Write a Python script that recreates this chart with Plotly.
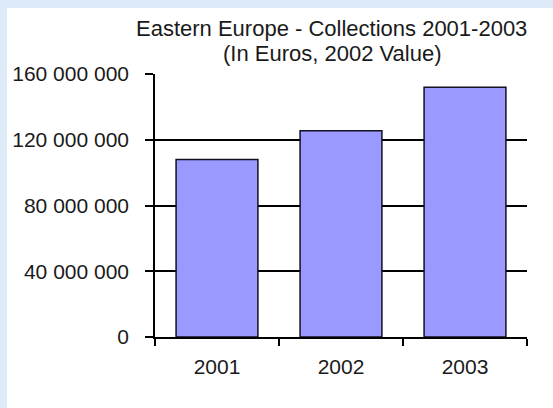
import plotly.graph_objects as go

years = ["2001", "2002", "2003"]
collections = [108_000_000, 125_500_000, 152_000_000]
y_tick_vals = [0, 40_000_000, 80_000_000, 120_000_000, 160_000_000]
y_tick_text = ["0", "40 000 000", "80 000 000", "120 000 000", "160 000 000"]
title_lines = ["Eastern Europe - Collections 2001-2003", "(In Euros, 2002 Value)"]

W, H = 553, 408
L, R, T, B = 155, 26, 74, 71
PW, PH = W - L - R, H - T - B

def px_x(x):
    return (x - L) / PW

def px_y(y):
    return (H - B - y) / PH

FONT = "Liberation Sans, Arial, sans-serif"
BLUE_BORDER = "#DDEAF7"

fig = go.Figure(
    go.Bar(
        x=years,
        y=collections,
        marker=dict(color="#9999FF", line=dict(color="#111122", width=1.5)),
    )
)

fig.update_layout(
    width=W,
    height=H,
    margin=dict(l=L, r=R, t=T, b=B, pad=0),
    paper_bgcolor="white",
    plot_bgcolor="white",
    bargap=0.34,
    showlegend=False,
    font=dict(family=FONT, size=21, color="#1a1a1a"),
    shapes=[
        dict(type="rect", xref="paper", yref="paper", x0=px_x(0), x1=px_x(7),
             y0=px_y(H), y1=px_y(0), fillcolor=BLUE_BORDER, line=dict(width=0), layer="below"),
        dict(type="rect", xref="paper", yref="paper", x0=px_x(0), x1=px_x(W),
             y0=px_y(8), y1=px_y(0), fillcolor=BLUE_BORDER, line=dict(width=0), layer="below"),
    ],
    annotations=[
        dict(text=title_lines[0], xref="paper", yref="paper", x=px_x(331), y=px_y(28),
             xanchor="center", yanchor="middle", showarrow=False,
             font=dict(family=FONT, size=22, color="#1a1a1a")),
        dict(text=title_lines[1], xref="paper", yref="paper", x=px_x(332), y=px_y(53),
             xanchor="center", yanchor="middle", showarrow=False,
             font=dict(family=FONT, size=22, color="#1a1a1a")),
    ],
)

fig.update_xaxes(
    type="category",
    showline=True, linecolor="black", linewidth=1.5,
    ticks="outside", ticklen=7, tickwidth=1.5, tickcolor="black",
    tickson="boundaries",
    showgrid=False,
    ticklabelstandoff=10,
    tickfont=dict(size=21),
)

fig.update_yaxes(
    range=[0, 160_000_000],
    tickvals=y_tick_vals,
    ticktext=y_tick_text,
    showline=True, linecolor="black", linewidth=1.5,
    ticks="outside", ticklen=8, tickwidth=1.5, tickcolor="black",
    showgrid=True, gridcolor="black", gridwidth=1.5,
    zeroline=False,
    ticklabelstandoff=12,
    tickfont=dict(size=21),
)

fig.write_html("out.html")
